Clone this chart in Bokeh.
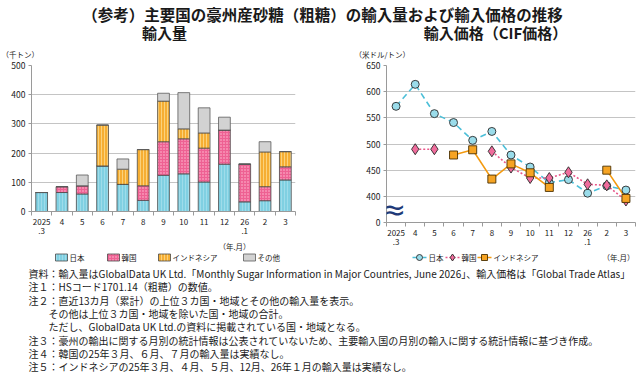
import numpy as np
from bokeh.plotting import figure
from bokeh.models import (ColumnDataSource, Range1d, FixedTicker, Label, Title)
from bokeh.layouts import column, row
from bokeh.embed import file_html
from bokeh.resources import INLINE

nan = np.nan
FONT = "Noto Sans CJK JP"

# ---- data -------------------------------------------------------------
months = ["2025\n.3", "4", "5", "6", "7", "8", "9", "10", "11", "12",
          "26\n.1", "2", "3"]

# import volume (thousand tonnes), stacked
vol_japan = [65, 65, 60, 156, 93, 38, 124, 129, 101, 162, 33, 37, 108]
vol_korea = [0, 20, 28, 0, 0, 50, 115, 120, 116, 117, 129, 48, 45]
vol_indonesia = [0, 0, 0, 140, 52, 124, 139, 34, 52, 0, 0, 119, 52]
vol_other = [0, 0, 37, 0, 35, 0, 27, 124, 86, 44, 0, 35, 0]

# import price CIF (USD / tonne)
price_japan = [572, 614, 558, 541, 507, 524, 479, 456, 426, 432, 406, 420, 412]
price_korea = [nan, 490, 490, nan, nan, 486, 455, 435, 435, 446, 423, 421, 392]
price_indonesia = [nan, nan, nan, 479, 489, 433, 462, 445, 417, nan, nan, 450, 396]

series_names = ["日本", "韓国", "インドネシア", "その他"]

title_main = "（参考）主要国の豪州産砂糖（粗糖）の輸入量および輸入価格の推移"
title_left = "輸入量"
title_right = "輸入価格（CIF価格）"
unit_left = "（千トン）"
unit_right = "（米ドル/トン）"
unit_x = "（年.月）"

notes = [
    ("資料：輸入量はGlobalData UK Ltd.「Monthly Sugar Information in Major Countries, June 2026」、輸入価格は「Global Trade Atlas」", 0),
    ("注１：HSコード1701.14（粗糖）の数値。", 0),
    ("注２：直近13カ月（累計）の上位３カ国・地域とその他の輸入量を表示。", 0),
    ("その他は上位３カ国・地域を除いた国・地域の合計。", 1),
    ("ただし、GlobalData UK Ltd.の資料に掲載されている国・地域となる。", 1),
    ("注３：豪州の輸出に関する月別の統計情報は公表されていないため、主要輸入国の月別の輸入に関する統計情報に基づき作成。", 0),
    ("注４：韓国の25年３月、６月、７月の輸入量は実績なし。", 0),
    ("注５：インドネシアの25年３月、４月、５月、12月、26年１月の輸入量は実績なし。", 0),
]

idx = list(range(len(months)))
labels = {i: m for i, m in enumerate(months)}

AXIS_COLOR = "#9a9a9a"
GRID_COLOR = "#c4c4c4"
TEXT_COLOR = "#1a1a1a"

BAR_FILL = ["#80d0e2", "#ee6193", "#f6ae33", "#d2d2d2"]
BAR_LINE = ["#4a4a4a", "#4a4a4a", "#4a4a4a", "#5a5a5a"]
BAR_HATCH = ["vertical_line", "dot", "vertical_line", " "]
BAR_HATCH_COLOR = ["#a6e0ec", "#ffc2d6", "#fbd27c", "#d2d2d2"]
BAR_HATCH_WEIGHT = [0.8, 1.2, 1.0, 0.5]

LINE_STYLE = [dict(line_color="#4cbfd8", line_width=1.6, line_dash="6 4"),
              dict(line_color="#e8588a", line_width=1.6, line_dash="2 2"),
              dict(line_color="#f39a10", line_width=1.6)]
MARK_STYLE = [dict(marker="circle", size=8, fill_color="#9adcea", line_color="#2a2a2a", line_width=0.9),
              dict(marker="diamond", size=11, fill_color="#f06c9c", line_color="#2a2a2a", line_width=0.9),
              dict(marker="square", size=8, fill_color="#f6a423", line_color="#4a3000", line_width=0.9)]
KEY_MARK_STYLE = [dict(MARK_STYLE[0], size=6), dict(MARK_STYLE[1], size=7),
                  dict(MARK_STYLE[2], size=6)]

# page-pixel geometry of the two plot frames
L_FRAME = (31, 295)
R_FRAME = (386, 635)

# legend key layout (page px)
BAR_KEY_X = [55, 107, 158, 243]
LINE_KEY_X = [412, 445, 477]
KEY_Y = 257


def blank(width, top, bottom, xspan=None):
    """A figure without axes whose data space is the page's pixel space.

    Strips stacked under a chart share its frame, so their x range is the
    chart frame's page span."""
    xr = Range1d(*xspan) if xspan else Range1d(0, width)
    f = figure(width=width, height=bottom - top, x_range=xr,
               y_range=Range1d(bottom, top), toolbar_location=None,
               output_backend="svg", min_border=0, x_axis_type=None,
               y_axis_type=None, outline_line_color=None)
    f.grid.visible = False
    return f


def text(f, x, y, s, size, align="left", bold=False):
    f.add_layout(Label(x=x, y=y, text=s, text_font=FONT, text_font_size=size,
                       text_font_style="bold" if bold else "normal", text_align=align,
                       text_baseline="middle", text_color=TEXT_COLOR))


def style_x_axis(p):
    ax = p.xaxis[0]
    ax.ticker = FixedTicker(ticks=idx, minor_ticks=[i - 0.5 for i in idx] + [idx[-1] + 0.5])
    ax.major_label_overrides = labels
    ax.major_tick_line_color = None
    ax.major_tick_in = 0
    ax.major_tick_out = 3
    ax.minor_tick_line_color = AXIS_COLOR
    ax.minor_tick_in = 0
    ax.minor_tick_out = 4
    ax.axis_line_color = AXIS_COLOR
    ax.major_label_text_font = FONT
    ax.major_label_text_font_size = "8px"
    ax.major_label_text_color = TEXT_COLOR
    ax.major_label_standoff = 0
    ax.major_label_text_line_height = 0.85


def style_y_axis(p):
    ax = p.yaxis[0]
    ax.axis_line_color = AXIS_COLOR
    ax.major_tick_line_color = AXIS_COLOR
    ax.major_tick_in = 0
    ax.major_tick_out = 3
    ax.minor_tick_line_color = None
    ax.major_label_text_font = FONT
    ax.major_label_text_font_size = "8.5px"
    ax.major_label_text_color = TEXT_COLOR
    ax.major_label_standoff = 3


# ---- header: titles and unit labels (page y 0..60) -----------------------
head = blank(640, 0, 60)
text(head, 322, 13, title_main, "15.5px", "center", True)
text(head, 164, 32, title_left, "15px", "center", True)
text(head, 495, 32, title_right, "15px", "center", True)
text(head, 1, 54, unit_left, "7.5px")
text(head, 354, 54, unit_right, "7.5px")

# ---- left: import volume (stacked bars), page x 0..330, y 60..252 --------
pl = figure(width=330, height=192, x_range=Range1d(-0.5, 12.5), y_range=Range1d(0, 500),
            toolbar_location=None, output_backend="svg",
            min_border_left=L_FRAME[0], min_border_right=330 - L_FRAME[1],
            min_border_top=5, min_border_bottom=41, outline_line_color=None)
pl.xgrid.visible = False
pl.ygrid.grid_line_color = GRID_COLOR
pl.yaxis.ticker = FixedTicker(ticks=[0, 100, 200, 300, 400, 500])
style_x_axis(pl)
style_y_axis(pl)

src = ColumnDataSource(dict(x=idx, japan=vol_japan, korea=vol_korea,
                            indonesia=vol_indonesia, other=vol_other))
pl.vbar_stack(["japan", "korea", "indonesia", "other"], x="x", width=0.58, source=src,
              fill_color=BAR_FILL, line_color=BAR_LINE, line_width=0.8,
              hatch_pattern=BAR_HATCH, hatch_color=BAR_HATCH_COLOR,
              hatch_scale=[3, 3, 3, 3], hatch_weight=BAR_HATCH_WEIGHT)
pl.add_layout(Title(text=unit_x, align="right", offset=45, standoff=0,
                    text_font=FONT, text_font_size="7.5px", text_font_style="normal",
                    text_color=TEXT_COLOR), "below")

# legend strip under the bar chart (page y 252..265)
leg_l = blank(330, 252, 265, xspan=L_FRAME)
for i, name in enumerate(series_names):
    kx = BAR_KEY_X[i]
    leg_l.quad(left=[kx], right=[kx + 12], top=[KEY_Y - 3.5], bottom=[KEY_Y + 3.5],
               fill_color=BAR_FILL[i], line_color=BAR_LINE[i], line_width=0.8,
               hatch_pattern=BAR_HATCH[i], hatch_color=BAR_HATCH_COLOR[i],
               hatch_scale=3, hatch_weight=BAR_HATCH_WEIGHT[i])
    text(leg_l, kx + 14, KEY_Y, name, "7.5px")

# ---- right: import price (lines), page x 330..640, y 60..252 -------------
pr = figure(width=310, height=192, x_range=Range1d(-0.5, 12.5), y_range=Range1d(350, 650),
            toolbar_location=None, output_backend="svg",
            min_border_left=R_FRAME[0] - 330, min_border_right=640 - R_FRAME[1],
            min_border_top=5, min_border_bottom=30, outline_line_color=None)
pr.xgrid.visible = False
pr.ygrid.grid_line_color = GRID_COLOR
pr.ygrid.ticker = FixedTicker(ticks=[400, 450, 500, 550, 600, 650])
pr.yaxis.ticker = FixedTicker(ticks=[350, 400, 450, 500, 550, 600, 650])
style_x_axis(pr)
style_y_axis(pr)
pr.yaxis.major_label_overrides = {350: "0"}

psrc = ColumnDataSource(dict(x=idx, japan=price_japan, korea=price_korea,
                             indonesia=price_indonesia))
for col, ls in zip(["japan", "korea", "indonesia"], LINE_STYLE):
    pr.line("x", col, source=psrc, **ls)
for col, ms in zip(["japan", "korea", "indonesia"], MARK_STYLE):
    pr.scatter("x", col, source=psrc, **ms)

# axis break mark between 0 and 400 (drawn just right of the y axis)
pr.add_layout(Label(x=-0.13, y=374, text="≈", text_font="DejaVu Sans", text_font_size="30px",
                    text_align="center", text_baseline="middle", text_color="#1f3a78"))

# legend strip under the price chart (page y 252..265)
leg_r = blank(310, 252, 265, xspan=R_FRAME)
for i in range(3):
    kx = LINE_KEY_X[i]
    leg_r.line(x=[kx, kx + 14], y=[KEY_Y, KEY_Y], **LINE_STYLE[i])
    leg_r.scatter(x=[kx + 7], y=[KEY_Y], **KEY_MARK_STYLE[i])
    text(leg_r, kx + 16, KEY_Y, series_names[i], "7.5px")
text(leg_r, 634, KEY_Y, unit_x, "7.5px", "right")

# ---- footer: sources and notes (page y 265..373) --------------------------
foot = blank(640, 265, 373)
for i, (txt, indent) in enumerate(notes):
    text(foot, 28 + 20 * indent, 273 + 13.3 * i, txt, "10px")

page = column(head, row(column(pl, leg_l), column(pr, leg_r)), foot)
open("out.html", "w").write(file_html(page, INLINE))
